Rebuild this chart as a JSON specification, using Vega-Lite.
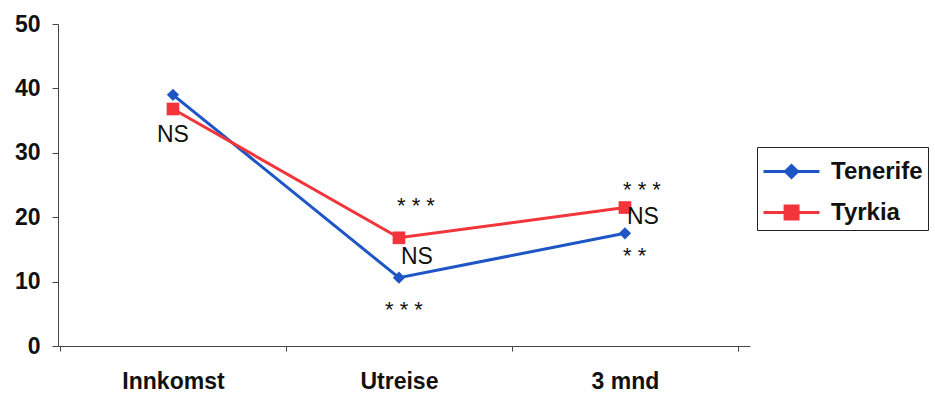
{
  "$schema": "https://vega.github.io/schema/vega-lite/v6.json",
  "autosize": {"type": "none"},
  "width": 692,
  "height": 322,
  "padding": {"left": 58, "top": 24, "right": 185, "bottom": 50},
  "background": "white",
  "config": {
    "view": {"stroke": null},
    "font": "Liberation Sans",
    "axis": {"grid": false, "domainColor": "#444", "tickColor": "#444", "labelFont": "Liberation Sans", "labelFontWeight": "bold", "labelFontSize": 23, "labelColor": "#111", "title": null}
  },
  "datasets": {
    "series": [
      {"time": "Innkomst", "group": "Tenerife", "value": 39.0},
      {"time": "Utreise", "group": "Tenerife", "value": 10.6},
      {"time": "3 mnd", "group": "Tenerife", "value": 17.5},
      {"time": "Innkomst", "group": "Tyrkia", "value": 36.8},
      {"time": "Utreise", "group": "Tyrkia", "value": 16.8},
      {"time": "3 mnd", "group": "Tyrkia", "value": 21.5}
    ],
    "notes": [
      {"time": "Innkomst", "y": 32.8, "label": "NS"},
      {"time": "Utreise", "y": 22.4, "label": "* * *"},
      {"time": "Utreise", "y": 13.8, "label": "NS"},
      {"time": "Utreise", "y": 6.2, "label": "* * *"},
      {"time": "3 mnd", "y": 24.8, "label": "* * *"},
      {"time": "3 mnd", "y": 20.0, "label": "NS"},
      {"time": "3 mnd", "y": 14.6, "label": "* *"}
    ]
  },
  "layer": [
    {
      "data": {"name": "series"},
      "mark": {"type": "line", "strokeWidth": 3},
      "encoding": {
        "x": {"field": "time", "type": "nominal", "sort": ["Innkomst", "Utreise", "3 mnd"],
              "scale": {"type": "band", "paddingInner": 0, "paddingOuter": 0.031, "align": 0.14},
              "axis": {"labelAngle": 0, "tickBand": "extent", "tickSize": 5, "labelPadding": 19}},
        "y": {"field": "value", "type": "quantitative", "scale": {"domain": [0, 50]},
              "axis": {"values": [0, 10, 20, 30, 40, 50], "tickSize": 6, "labelPadding": 12}},
        "color": {"field": "group", "type": "nominal",
                  "scale": {"domain": ["Tenerife", "Tyrkia"], "range": ["#1f56c6", "#f2353a"]},
                  "legend": {
                    "title": null, "orient": "none", "legendX": 699, "legendY": 123,
                    "padding": 5, "rowPadding": 9, "strokeColor": "#222", "fillColor": "white",
                    "labelFont": "Liberation Sans", "labelFontSize": 24, "labelFontWeight": "bold", "labelColor": "#111",
                    "labelOffset": 30, "symbolSize": 1296, "symbolStrokeWidth": 3,
                    "encode": {"symbols": {"update": {
                      "shape": {"signal": "datum.value === 'Tenerife' ? 'M-1,0H2.11M0.556,-0.33L0.89,0L0.556,0.33L0.22,0Z' : 'M-1,0H2.11M0.2,-0.36H0.92V0.36H0.2Z'"},
                      "fill": {"scale": "color", "field": "value"},
                      "stroke": {"scale": "color", "field": "value"},
                      "strokeWidth": {"value": 3},
                      "size": {"value": 1296},
                      "opacity": {"value": 1}
                    }}}
                  }}
      }
    },
    {
      "data": {"name": "series"},
      "transform": [{"filter": "datum.group === 'Tenerife'"}],
      "mark": {"type": "point", "filled": true, "opacity": 1, "shape": "diamond", "size": 150},
      "encoding": {
        "x": {"field": "time", "type": "nominal", "sort": ["Innkomst", "Utreise", "3 mnd"]},
        "y": {"field": "value", "type": "quantitative"},
        "color": {"field": "group", "type": "nominal", "legend": null}
      }
    },
    {
      "data": {"name": "series"},
      "transform": [{"filter": "datum.group === 'Tyrkia'"}],
      "mark": {"type": "point", "filled": true, "opacity": 1, "shape": "square", "size": 160},
      "encoding": {
        "x": {"field": "time", "type": "nominal", "sort": ["Innkomst", "Utreise", "3 mnd"]},
        "y": {"field": "value", "type": "quantitative"},
        "color": {"field": "group", "type": "nominal", "legend": null}
      }
    },
    {
      "data": {"name": "notes"},
      "transform": [{"filter": "datum.label === 'NS' && datum.time === 'Innkomst'"}],
      "mark": {"type": "text", "fontSize": 23, "align": "center", "baseline": "middle", "color": "#111"},
      "encoding": {
        "x": {"field": "time", "type": "nominal", "sort": ["Innkomst", "Utreise", "3 mnd"]},
        "y": {"field": "y", "type": "quantitative"},
        "text": {"field": "label"}
      }
    },
    {
      "data": {"name": "notes"},
      "transform": [{"filter": "datum.label === 'NS' && datum.time !== 'Innkomst'"}],
      "mark": {"type": "text", "fontSize": 23, "align": "left", "dx": 2, "baseline": "middle", "color": "#111"},
      "encoding": {
        "x": {"field": "time", "type": "nominal", "sort": ["Innkomst", "Utreise", "3 mnd"]},
        "y": {"field": "y", "type": "quantitative"},
        "text": {"field": "label"}
      }
    },
    {
      "data": {"name": "notes"},
      "transform": [{"filter": "datum.label !== 'NS' && datum.y > 10"}],
      "mark": {"type": "text", "fontSize": 22, "align": "left", "dx": -2, "dy": 4, "baseline": "middle", "color": "#111"},
      "encoding": {
        "x": {"field": "time", "type": "nominal", "sort": ["Innkomst", "Utreise", "3 mnd"]},
        "y": {"field": "y", "type": "quantitative"},
        "text": {"field": "label"}
      }
    },
    {
      "data": {"name": "notes"},
      "transform": [{"filter": "datum.label !== 'NS' && datum.y <= 10"}],
      "mark": {"type": "text", "fontSize": 22, "align": "center", "dx": 5, "dy": 4, "baseline": "middle", "color": "#111"},
      "encoding": {
        "x": {"field": "time", "type": "nominal", "sort": ["Innkomst", "Utreise", "3 mnd"]},
        "y": {"field": "y", "type": "quantitative"},
        "text": {"field": "label"}
      }
    }
  ]
}
